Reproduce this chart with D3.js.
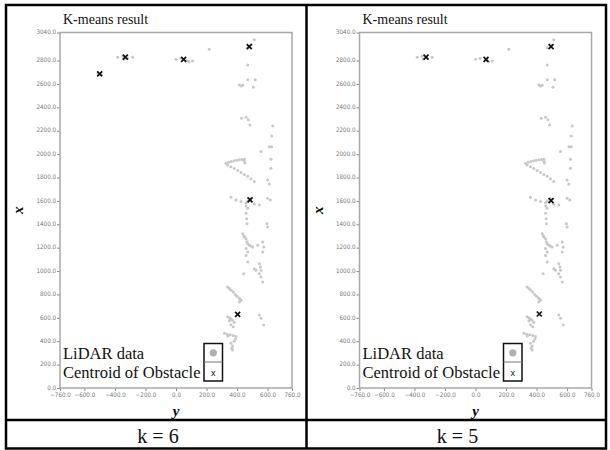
<!DOCTYPE html>
<html>
<head>
<meta charset="utf-8">
<script src="https://cdn.jsdelivr.net/npm/d3@7"></script>
<style>
  body { margin: 0; background: #fff; }
  .tick text { font-family: "Liberation Sans Narrow", "DejaVu Sans Condensed", sans-serif; font-size: 6.2px; fill: #777; }
  .tick line { stroke: #888; }
  .domain { stroke: none; }
</style>
</head>
<body>
<svg id="chart"></svg>
<script>
// axis ticks
const yTicks = [-760, -600, -400, -200, 0, 200, 400, 600, 760];
const xTicks = [0, 200, 400, 600, 800, 1000, 1200, 1400, 1600, 1800, 2000, 2200, 2400, 2600, 2800, 3040];

// LiDAR points, [y, x]
const lidar = [
  [-382, 2829], [-284, 2829], [-350, 2836], [-318, 2820], [-342, 2812],
  [0, 2811], [109, 2797], [30, 2820], [72, 2801], [84, 2790],
  [218, 2897], [513, 2977], [470, 2910], [492, 2935], [470, 2763],
  [415, 2592], [426, 2583], [470, 2635], [519, 2635], [507, 2572], [437, 2589],
  [430, 2307], [459, 2316], [474, 2293], [485, 2250],
  [634, 2241], [627, 2156], [612, 2064], [627, 2064], [557, 2022], [622, 1956],
  [622, 1879], [600, 1779], [611, 1745],
  [328, 1922], [345, 1930], [362, 1937], [380, 1943], [398, 1948], [415, 1952],
  [432, 1955], [448, 1957], [448, 1940], [452, 1925],
  [338, 1908], [360, 1893], [382, 1876], [404, 1860], [426, 1842], [448, 1826],
  [470, 1810], [491, 1790], [513, 1765],
  [360, 1631], [393, 1608], [426, 1594], [459, 1585], [459, 1557], [470, 1537],
  [513, 1574], [546, 1565], [600, 1622], [618, 1608], [470, 1600], [490, 1620],
  [459, 1494], [463, 1448], [465, 1405], [596, 1405], [600, 1377],
  [437, 1320], [448, 1292], [459, 1277], [470, 1234], [480, 1220], [502, 1206],
  [459, 1192], [470, 1163], [459, 1134], [470, 1077], [445, 1300], [465, 1250], [490, 1215],
  [568, 1249], [575, 1206], [568, 1163], [535, 1220],
  [546, 1063], [553, 1035], [557, 1007], [546, 978], [557, 950], [568, 907],
  [513, 1020], [524, 1007], [443, 978],
  [338, 864], [350, 850], [362, 835], [375, 820], [388, 800], [400, 785],
  [413, 770], [426, 750], [415, 736], [420, 760],
  [338, 610], [350, 600], [360, 590], [370, 580], [382, 560], [360, 540],
  [375, 524], [350, 575], [317, 468], [335, 460], [355, 455], [375, 450],
  [393, 440], [340, 445], [360, 382], [371, 360], [365, 340], [371, 325],
  [380, 400], [390, 420], [546, 624], [557, 596], [575, 539]
];
// points only present in the k = 6 run
const lidarK6 = [[-510, 2692], [-492, 2680]];

const centroidsK6 = [[-500, 2686], [-332, 2829], [50, 2811], [480, 2920], [485, 1608], [404, 630]];
const centroidsK5 = [[-324, 2829], [69, 2811], [495, 2920], [495, 1602], [418, 633]];

const labels = ["k = 6", "k = 5"];

const SERIF = "'Liberation Serif', 'Times New Roman', 'DejaVu Serif', serif";
const W = 610, H = 450;
const svg = d3.select("#chart").attr("width", W).attr("height", H);

const pw = 232, ph = 355.5;
const xs = d3.scaleLinear().domain([-760, 760]).range([0, pw]);
const ys = d3.scaleLinear().domain([0, 3040]).range([ph, 0]);

function drawPanel(left, points, centroids, label) {
  const g = svg.append("g").attr("transform", `translate(${left}, 32.5)`);

  g.append("g")
    .attr("transform", `translate(0, ${ph})`)
    .call(d3.axisBottom(xs).tickValues(yTicks).tickSize(3).tickPadding(1.5).tickFormat(d3.format(".1f")));
  const yAx = g.append("g")
    .call(d3.axisLeft(ys).tickValues(xTicks).tickSize(3).tickPadding(1).tickFormat(d3.format(".1f")));
  yAx.selectAll(".tick text").attr("dy", "0.2em");

  g.append("rect")
    .attr("width", pw).attr("height", ph)
    .attr("fill", "none").attr("stroke", "#a8a8a8").attr("stroke-width", 1.5);

  g.append("g").selectAll("circle")
    .data(points)
    .join("circle")
    .attr("cx", (d) => xs(d[0]))
    .attr("cy", (d) => ys(d[1]))
    .attr("r", 1.5)
    .attr("fill", "#c8c8c8");

  g.append("g").selectAll("path")
    .data(centroids)
    .join("path")
    .attr("d", (d) => {
      const x = xs(d[0]), y = ys(d[1]), s = 2.5;
      return `M${x - s},${y - s}L${x + s},${y + s}M${x - s},${y + s}L${x + s},${y - s}`;
    })
    .attr("stroke", "#111").attr("stroke-width", 1.7);

  g.append("text")
    .attr("x", 3).attr("y", -9)
    .attr("font-family", SERIF).attr("font-size", 14).attr("fill", "#111")
    .text("K-means result");

  // axis titles
  g.append("text")
    .attr("transform", `translate(-37, ${ph / 2}) rotate(-90)`)
    .attr("text-anchor", "middle")
    .attr("font-family", SERIF).attr("font-size", 15)
    .attr("font-weight", "bold").attr("font-style", "italic")
    .text("x");
  g.append("text")
    .attr("x", xs(0)).attr("y", ph + 28)
    .attr("text-anchor", "middle")
    .attr("font-family", SERIF).attr("font-size", 15)
    .attr("font-weight", "bold").attr("font-style", "italic")
    .text("y");

  // legend
  const lg = g.append("g");
  lg.append("text").attr("x", 3).attr("y", 326.5)
    .attr("font-family", SERIF).attr("font-size", 16.5).attr("fill", "#111")
    .text("LiDAR data");
  lg.append("text").attr("x", 3).attr("y", 345.5)
    .attr("font-family", SERIF).attr("font-size", 16.5).attr("fill", "#111")
    .text("Centroid of Obstacle");
  lg.append("rect").attr("x", 144).attr("y", 311).attr("width", 18.5).attr("height", 37.5)
    .attr("fill", "#fff").attr("stroke", "#111").attr("stroke-width", 1.5);
  lg.append("line").attr("x1", 144).attr("x2", 162.5).attr("y1", 329.5).attr("y2", 329.5)
    .attr("stroke", "#777").attr("stroke-width", 1);
  lg.append("circle").attr("cx", 153.3).attr("cy", 320.3).attr("r", 3.6).attr("fill", "#b0b0b0");
  lg.append("text").attr("x", 153.3).attr("y", 343)
    .attr("text-anchor", "middle")
    .attr("font-family", "'Liberation Sans', sans-serif").attr("font-size", 9).attr("fill", "#111")
    .text("x");

  svg.append("text")
    .attr("x", left + xs(0) - 18).attr("y", 443)
    .attr("text-anchor", "middle")
    .attr("font-family", SERIF).attr("font-size", 20).attr("fill", "#111")
    .text(label);
}

drawPanel(60, lidar.concat(lidarK6), centroidsK6, labels[0]);
drawPanel(359.5, lidar, centroidsK5, labels[1]);

// table lines
const border = svg.append("g").attr("stroke", "#000").attr("stroke-width", 2.5).attr("fill", "none");
border.append("rect").attr("x", 6).attr("y", 5).attr("width", 600).attr("height", 443.5);
border.append("line").attr("x1", 306.5).attr("x2", 306.5).attr("y1", 5).attr("y2", 448.5);
border.append("line").attr("x1", 6).attr("x2", 606).attr("y1", 420).attr("y2", 420);
</script>
</body>
</html>
